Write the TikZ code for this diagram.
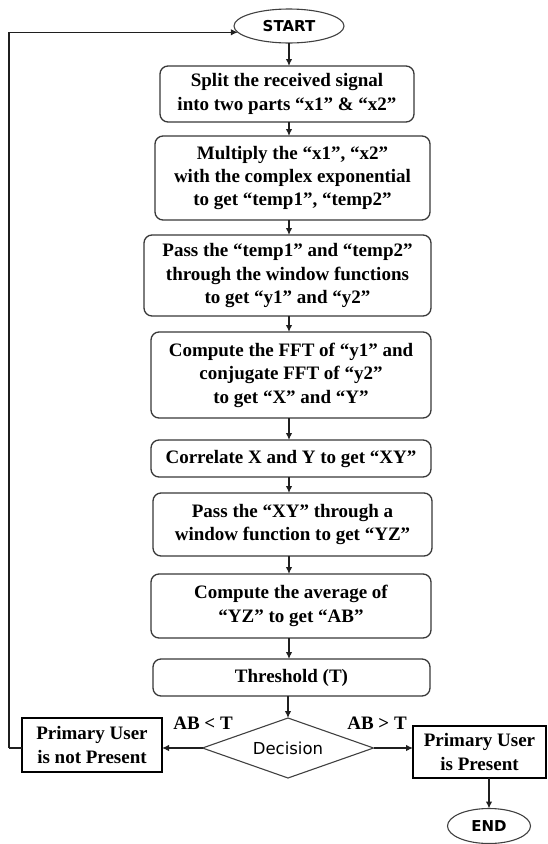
\documentclass[tikz,border=0pt]{standalone}
\usepackage{fontspec}
\setmainfont{Liberation Serif}
\newfontfamily\termfont{DejaVu Sans}
\usetikzlibrary{shapes.geometric,arrows.meta}

\begin{document}
\begin{tikzpicture}[x=1pt,y=-1pt,
  every node/.style={inner sep=0pt, outer sep=0pt},
  boxtext/.style={font=\fontsize{19}{23.5}\selectfont\bfseries, text=black, align=center},
  stepbox/.style={boxtext, draw=black!78, line width=1.3pt, rounded corners=8pt},
  outcome/.style={boxtext, draw=black, line width=1.9pt},
  terminal/.style={ellipse, draw=black!75, line width=1.1pt,
    font=\termfont\bfseries\fontsize{15}{18}\selectfont},
  choice/.style={diamond, aspect=2.85, draw=black!75, line width=1.1pt,
    font=\termfont\fontsize{16.5}{20}\selectfont},
  conn/.style={draw=black!88, line width=1.2pt, -{Latex[length=7pt,width=6.5pt]}},
  loopline/.style={draw=black!88, line width=1.2pt},
  condlabel/.style={font=\fontsize{19}{23}\selectfont\bfseries}
]
\useasboundingbox (0,0) rectangle (547,844);

% main column
\node[terminal, minimum width=110pt, minimum height=34pt] (start) at (289,26) {START};
\node[stepbox, minimum width=254pt, minimum height=56pt] (split) at (287,94)
  {Split the received signal\\into two parts “x1” \& “x2”};
\node[stepbox, minimum width=275pt, minimum height=84pt] (mult) at (292.5,178)
  {Multiply the “x1”, “x2”\\with the complex exponential\\to get “temp1”, “temp2”};
\node[stepbox, minimum width=287pt, minimum height=81pt] (window) at (287.5,275.5)
  {Pass the “temp1” and “temp2”\\through the window functions\\to get “y1” and “y2”};
\node[stepbox, minimum width=280pt, minimum height=86pt] (fft) at (291,375)
  {Compute the FFT of “y1” and\\conjugate FFT of “y2”\\to get “X” and “Y”};
\node[stepbox, minimum width=280pt, minimum height=37pt] (corr) at (291,458.5)
  {Correlate X and Y to get “XY”};
\node[stepbox, minimum width=279pt, minimum height=63pt] (xywin) at (292.5,524.5)
  {Pass the “XY” through a\\window function to get “YZ”};
\node[stepbox, minimum width=280pt, minimum height=64pt] (avg) at (291,606)
  {Compute the average of\\“YZ” to get “AB”};
\node[stepbox, minimum width=277pt, minimum height=37pt] (thr) at (291.5,677.5)
  {Threshold (T)};
\node[choice, minimum width=171pt, minimum height=60pt] (dec) at (288,748) {Decision};

% outcomes
\node[outcome, minimum width=140pt, minimum height=54pt] (absent) at (92,745)
  {Primary User\\is not Present};
\node[outcome, minimum width=133pt, minimum height=52pt] (present) at (479.5,752)
  {Primary User\\is Present};
\node[terminal, minimum width=83pt, minimum height=35pt] (stop) at (489,826) {END};

% branch labels
\node[condlabel] (ltlabel) at (203,723) {AB < T};
\node[condlabel] (gtlabel) at (377,723) {AB > T};

% connectors down the column
\draw[conn] (start.south) -- (split.north -| start);
\draw[conn] (split.south -| start) -- (mult.north -| start);
\draw[conn] (mult.south -| start) -- (window.north -| start);
\draw[conn] (window.south -| start) -- (fft.north -| start);
\draw[conn] (fft.south -| start) -- (corr.north -| start);
\draw[conn] (corr.south -| start) -- (xywin.north -| start);
\draw[conn] (xywin.south -| start) -- (avg.north -| start);
\draw[conn] (avg.south -| start) -- (thr.north -| start);
\draw[conn] (thr.south -| dec) -- (dec.north);

% decision branches
\draw[conn] (dec.west) -- (dec.west -| absent.east);
\draw[conn] (dec.east) -- (dec.east -| present.west);
\draw[conn] (present.south -| stop) -- (stop.north);

% loop back to the start
\draw[loopline] (absent.west |- dec.west) -- ++(-13,0) coordinate (loopcorner);
\draw[conn] (loopcorner) |- (start.187);
\end{tikzpicture}
\end{document}
